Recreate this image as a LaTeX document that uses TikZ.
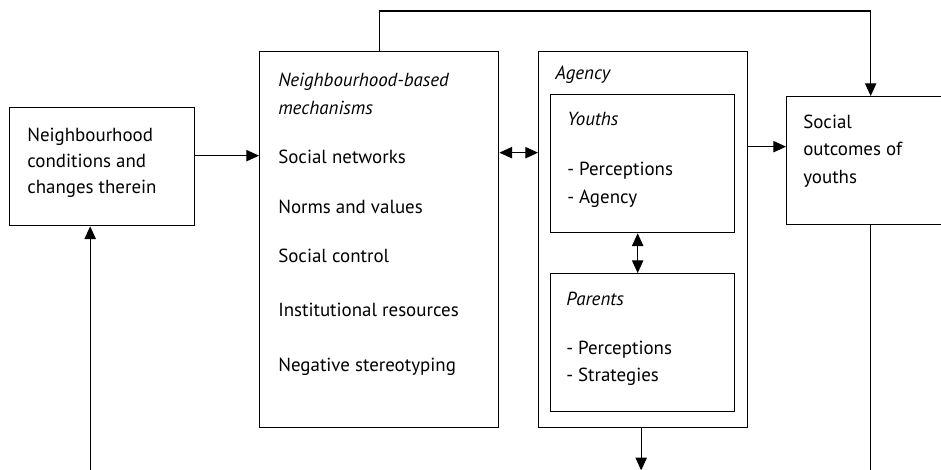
\documentclass[tikz,border=0pt]{standalone}
\usepackage{fontspec}
\setmainfont{PT Sans}
\usetikzlibrary{arrows.meta,calc}
\newlength\px
\setlength\px{0.75pt}

\begin{document}
\begin{tikzpicture}
  [x=0.75pt, y=-0.75pt,
   box/.style={draw, line width=1pt, inner sep=0pt, anchor=north west},
   lbl/.style={anchor=base west, inner sep=0pt, yshift=-1.5\px, font=\fontsize{14.2}{16}\selectfont},
   ilbl/.style={lbl, font=\fontsize{14.2}{16}\selectfont\itshape},
   arr/.style={line width=0.8pt, -{Triangle[length=9.5pt,width=8.5pt]}},
   darr/.style={line width=0.8pt, {Triangle[length=9.5pt,width=8.5pt]}-{Triangle[length=9.5pt,width=8.5pt]}}]
  \clip (0,0) rectangle (941,469);

  % boxes
  \node[box, minimum width=185\px, minimum height=118\px] (cond) at (9,107) {};
  \node[box, minimum width=239\px, minimum height=376\px] (mech) at (259,51) {};
  \node[box, minimum width=209\px, minimum height=376\px] (agency) at (538,51) {};
  \node[box, minimum width=184\px, minimum height=138\px] (youths) at (550,94) {};
  \node[box, minimum width=184\px, minimum height=138\px] (parents) at (550,273) {};
  \node[box, minimum width=168\px, minimum height=128\px] (outcome) at (786,96) {};

  % texts
  \node[lbl] (cond1) at (27,140) {Neighbourhood};
  \node[lbl] (cond2) at (27,166) {conditions and};
  \node[lbl] (cond3) at (27,192) {changes therein};

  \node[ilbl] (mech1) at (278,85) {Neighbourhood-based};
  \node[ilbl] (mech2) at (278,113) {mechanisms};
  \node[lbl] (mech3) at (278,162) {Social networks};
  \node[lbl] (mech4) at (278,212) {Norms and values};
  \node[lbl] (mech5) at (278,261) {Social control};
  \node[lbl] (mech6) at (278,315) {Institutional resources};
  \node[lbl] (mech7) at (278,370) {Negative stereotyping};

  \node[ilbl] (ag1) at (555,78) {Agency};
  \node[ilbl] (you1) at (567,124) {Youths};
  \node[lbl] (you2) at (567,174) {- Perceptions};
  \node[lbl] (you3) at (567,202) {- Agency};
  \node[ilbl] (par1) at (566,304) {Parents};
  \node[lbl] (par2) at (566,353) {- Perceptions};
  \node[lbl] (par3) at (566,380) {- Strategies};

  \node[lbl] (out1) at (803,127) {Social};
  \node[lbl] (out2) at (803,154) {outcomes of};
  \node[lbl] (out3) at (803,182) {youths};

  % connectors
  \draw[arr] ($(cond.east)+(0,-11)$) coordinate (c1) -- (c1 -| mech.west);
  \draw[darr] ($(mech.east)+(0,-87)$) coordinate (c2) -- (c2 -| agency.west);
  \draw[arr] ($(outcome.west)+(0,-14)$) coordinate (c3) (c3 -| agency.east) -- (c3);
  \draw[darr] ($(youths.south)+(-5,0)$) -- ($(parents.north)+(-5,0)$);
  \draw[arr] ($(agency.south)+(-2,0)$) -- ++(0,42);
  \draw[arr] ($(cond.south)+(-12,0)$) coordinate (c4) ++(0,244) -- (c4);
  \draw[line width=0.8pt] (outcome.south) -- ++(0,245);
  \draw[arr] (mech.north) -- ++(0,-40) -| (outcome.north);
\end{tikzpicture}
\end{document}
